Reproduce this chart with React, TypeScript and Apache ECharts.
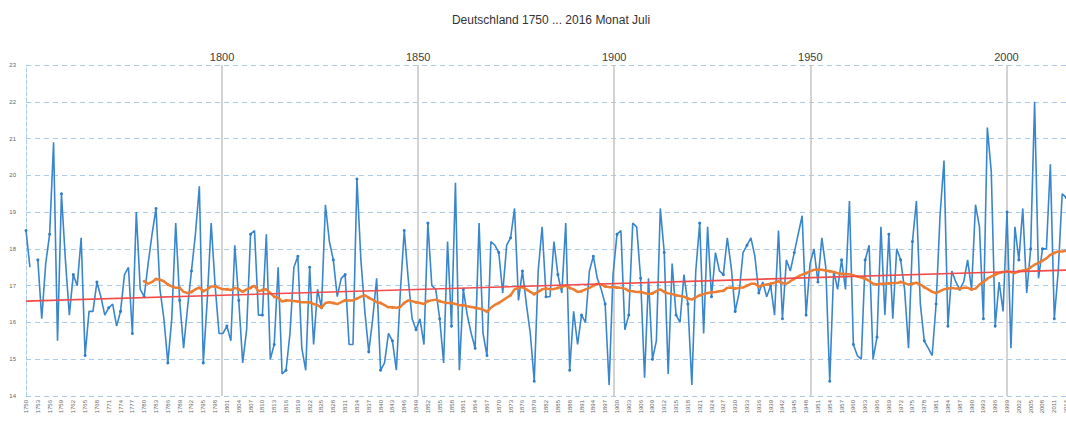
import React, { useEffect, useRef } from "react";
import * as echarts from "echarts";

const FIRST_YEAR = 1750;
const LAST_YEAR = 2016;
const MA_FIRST_YEAR = 1780;

// July mean temperature Germany (°C), 1750..2016
const julyTemps: (number | null)[] = [
  18.5, 17.5, null, 17.7, 16.1, 17.6, 18.4, 20.9, 15.5, 19.5, // 1750
  17.7, 16.2, 17.3, 17.0, 18.3, 15.1, 16.3, 16.3, 17.1, 16.7, // 1760
  16.2, 16.4, 16.5, 15.9, 16.3, 17.3, 17.5, 15.7, 19.0, 16.9, // 1770
  16.7, 17.6, 18.4, 19.1, 16.9, 16.1, 14.9, 16.1, 18.7, 16.6, // 1780
  15.3, 16.4, 17.4, 18.4, 19.7, 14.9, 16.6, 18.7, 17.0, 15.7, // 1790
  15.7, 15.9, 15.5, 18.1, 16.6, 14.9, 15.8, 18.4, 18.5, 16.2, // 1800
  16.2, 18.4, 15.0, 15.4, 17.5, 14.6, 14.7, 15.7, 17.5, 17.8, // 1810
  15.3, 14.7, 17.5, 15.4, 16.9, 16.4, 19.2, 18.2, 17.7, 16.7, // 1820
  17.2, 17.3, 15.4, 15.4, 19.9, 17.7, 16.3, 15.2, 16.1, 17.2, // 1830
  14.7, 14.9, 15.7, 15.5, 14.7, 16.8, 18.5, 17.2, 16.1, 15.8, // 1840
  16.1, 15.4, 18.7, 17.0, 16.9, 16.1, 14.9, 18.2, 15.9, 19.8, // 1850
  14.7, 16.9, 16.2, 15.7, 15.3, 18.7, 15.7, 15.1, 18.2, 18.1, // 1860
  17.9, 16.8, 18.1, 18.3, 19.1, 16.6, 17.4, 16.5, 15.7, 14.4, // 1870
  17.4, 18.6, 16.7, 16.7, 18.2, 17.3, 16.8, 18.7, 14.7, 16.3, // 1880
  15.4, 16.2, 16.0, 17.4, 17.8, 17.2, 16.9, 16.5, 14.3, 17.3, // 1890
  18.4, 18.5, 15.8, 16.2, 18.7, 18.6, 17.2, 14.5, 17.2, 15.0, // 1900
  15.5, 19.1, 17.9, 14.6, 17.6, 16.2, 16.0, 17.3, 16.5, 14.3, // 1910
  17.4, 18.7, 15.7, 18.6, 16.7, 17.9, 17.4, 17.3, 18.3, 17.5, // 1920
  16.3, 16.8, 17.9, 18.1, 18.3, 17.8, 16.8, 17.1, 16.7, 17.0, // 1930
  16.2, 18.5, 16.1, 17.7, 17.4, 17.9, 18.4, 18.9, 16.2, 17.6, // 1940
  18.0, 17.1, 18.3, 17.5, 14.4, 17.4, 16.9, 17.7, 16.9, 19.3, // 1950
  15.4, 15.1, 15.0, 17.7, 18.1, 15.0, 15.6, 18.6, 16.2, 18.4, // 1960
  16.1, 18.0, 17.7, 16.9, 15.3, 18.2, 19.3, 16.5, 15.5, 15.3, // 1970
  15.1, 16.5, 18.9, 20.4, 15.9, 17.4, 17.1, 16.9, 17.1, 17.7, // 1980
  16.9, 19.2, 18.6, 16.1, 21.3, 20.1, 15.9, 17.1, 16.3, 19.0, // 1990
  15.3, 18.6, 17.7, 19.1, 16.8, 18.0, 22.0, 17.2, 18.0, 18.0, // 2000
  20.3, 16.1, 17.4, 19.5, 19.4, 19.6, 18.8, // 2010
];

// Moving average (orange), 1780..2016
const movingAvg: number[] = [
  17.12, 17.05, 17.1, 17.18, 17.16, 17.12, 17.03, 16.98, 16.94, 16.94, // 1780
  16.83, 16.8, 16.83, 16.9, 16.95, 16.85, 16.9, 16.98, 16.98, 16.94, // 1790
  16.9, 16.9, 16.88, 16.94, 16.9, 16.83, 16.9, 16.94, 17.0, 16.85, // 1800
  16.88, 16.9, 16.8, 16.7, 16.67, 16.57, 16.6, 16.6, 16.58, 16.57, // 1810
  16.55, 16.55, 16.55, 16.5, 16.47, 16.4, 16.53, 16.55, 16.53, 16.5, // 1820
  16.55, 16.6, 16.6, 16.6, 16.65, 16.7, 16.74, 16.67, 16.62, 16.55, // 1830
  16.53, 16.47, 16.41, 16.41, 16.4, 16.42, 16.53, 16.6, 16.58, 16.55, // 1840
  16.53, 16.5, 16.58, 16.6, 16.62, 16.58, 16.55, 16.53, 16.53, 16.5, // 1850
  16.47, 16.47, 16.44, 16.42, 16.4, 16.38, 16.35, 16.29, 16.4, 16.48, // 1860
  16.53, 16.6, 16.67, 16.74, 16.9, 16.94, 16.96, 16.9, 16.83, 16.77, // 1870
  16.83, 16.9, 16.92, 16.9, 16.91, 16.94, 16.96, 17.0, 16.94, 16.9, // 1880
  16.83, 16.85, 16.9, 16.94, 17.0, 17.05, 17.03, 16.98, 16.96, 16.96, // 1890
  16.95, 16.94, 16.92, 16.86, 16.85, 16.83, 16.83, 16.8, 16.77, 16.79, // 1900
  16.85, 16.9, 16.83, 16.79, 16.77, 16.74, 16.72, 16.7, 16.65, 16.62, // 1910
  16.68, 16.74, 16.77, 16.8, 16.82, 16.83, 16.85, 16.86, 16.94, 16.95, // 1920
  16.92, 16.94, 16.95, 17.0, 17.05, 17.05, 16.98, 17.01, 17.03, 17.05, // 1930
  17.08, 17.12, 17.07, 17.05, 17.12, 17.19, 17.25, 17.3, 17.34, 17.39, // 1940
  17.43, 17.43, 17.43, 17.41, 17.39, 17.37, 17.34, 17.32, 17.32, 17.31, // 1950
  17.28, 17.25, 17.22, 17.19, 17.13, 17.05, 17.03, 17.05, 17.05, 17.06, // 1960
  17.07, 17.07, 17.1, 17.07, 17.03, 17.05, 17.08, 17.03, 16.96, 16.9, // 1970
  16.83, 16.8, 16.85, 16.9, 16.92, 16.94, 16.92, 16.92, 16.94, 16.94, // 1980
  16.9, 16.92, 17.03, 17.1, 17.19, 17.25, 17.3, 17.34, 17.37, 17.39, // 1990
  17.37, 17.34, 17.39, 17.41, 17.43, 17.5, 17.57, 17.62, 17.68, 17.74, // 2000
  17.84, 17.89, 17.93, 17.93, 17.95, 17.94, 17.93, // 2010
];

// Linear trend end points
const trendYears = ["1750", "2016"];
const trendValues = [16.58, 17.43];

// Top marker years
const markerYears = [1800, 1850, 1900, 1950, 2000];

const yTicks = { min: 14, max: 23, interval: 1 };

const years: string[] = [];
for (let y = FIRST_YEAR; y <= LAST_YEAR; y++) years.push(String(y));

const GRID_LEFT = 26;
const GRID_WIDTH = 1048;

export default function App() {
  const ref = useRef<HTMLDivElement>(null);
  useEffect(() => {
    if (!ref.current) return;
    const chart = echarts.init(ref.current, undefined, { renderer: "svg" });
    const gridColor = "#abcbeb";
    chart.setOption({
      animation: false,
      backgroundColor: "#ffffff",
      textStyle: { fontFamily: "Liberation Sans, Arial, sans-serif" },
      title: {
        text: "Deutschland 1750 ... 2016 Monat Juli",
        left: 546,
        textAlign: "center",
        top: 9,
        textStyle: { fontSize: 12, fontWeight: "normal", color: "#333" },
      },
      grid: { left: GRID_LEFT, top: 65, width: GRID_WIDTH, height: 331 },
      xAxis: [
        {
          type: "category",
          data: years,
          boundaryGap: false,
          axisLine: { show: false },
          axisTick: { show: false },
          axisLabel: {
            interval: 2,
            rotate: 90,
            fontSize: 6,
            color: "#666",
            margin: 4,
          },
          splitLine: { show: false },
        },
        {
          type: "value",
          position: "top",
          min: 1750,
          max: 1750 + GRID_WIDTH / 3.9215,
          interval: 50,
          axisLine: { show: false },
          axisTick: { show: false },
          axisLabel: {
            showMinLabel: true,
            showMaxLabel: true,
            hideOverlap: false,
            fontSize: 11,
            color: "#404040",
            margin: 3,
            customValues: markerYears,
            formatter: (v: number) => String(v),
          },
          splitLine: {
            show: true,
            showMinLine: false,
            showMaxLine: false,
            lineStyle: { color: "#c4c4c4", width: 1.5 },
          },
        },
      ],
      yAxis: {
        type: "value",
        min: yTicks.min,
        max: yTicks.max,
        interval: yTicks.interval,
        axisLine: {
          show: true,
          lineStyle: { color: gridColor, type: "dashed", width: 1 },
        },
        axisTick: { show: false },
        axisLabel: { fontSize: 6, color: "#666", margin: 10 },
        splitLine: {
          show: true,
          lineStyle: { color: gridColor, type: [5, 4], width: 1 },
        },
      },
      series: [
        {
          name: "Juli",
          type: "line",
          data: julyTemps,
          connectNulls: false,
          symbol: "circle",
          symbolSize: 3,
          itemStyle: { color: "#2f7dc8" },
          lineStyle: { color: "#3a86cc", width: 1.6 },
          z: 3,
        },
        {
          name: "Mittel",
          type: "line",
          data: movingAvg.map((v, i) => [String(MA_FIRST_YEAR + i), v]),
          symbol: "circle",
          symbolSize: 3,
          itemStyle: { color: "#ed7d31" },
          lineStyle: { color: "#ed7d31", width: 2.5 },
          z: 4,
        },
        {
          name: "Trend",
          type: "line",
          data: trendYears.map((y, i) => [y, trendValues[i]]),
          symbol: "none",
          lineStyle: { color: "#f24b4b", width: 1.6 },
          z: 5,
        },
      ],
    });
    return () => chart.dispose();
  }, []);
  return (
    <div
      style={{
        position: "fixed",
        left: 0,
        top: 0,
        width: 1066,
        height: 421,
        overflow: "hidden",
        background: "#fff",
      }}
    >
      <div ref={ref} style={{ width: GRID_LEFT + GRID_WIDTH, height: 421 }} />
    </div>
  );
}
